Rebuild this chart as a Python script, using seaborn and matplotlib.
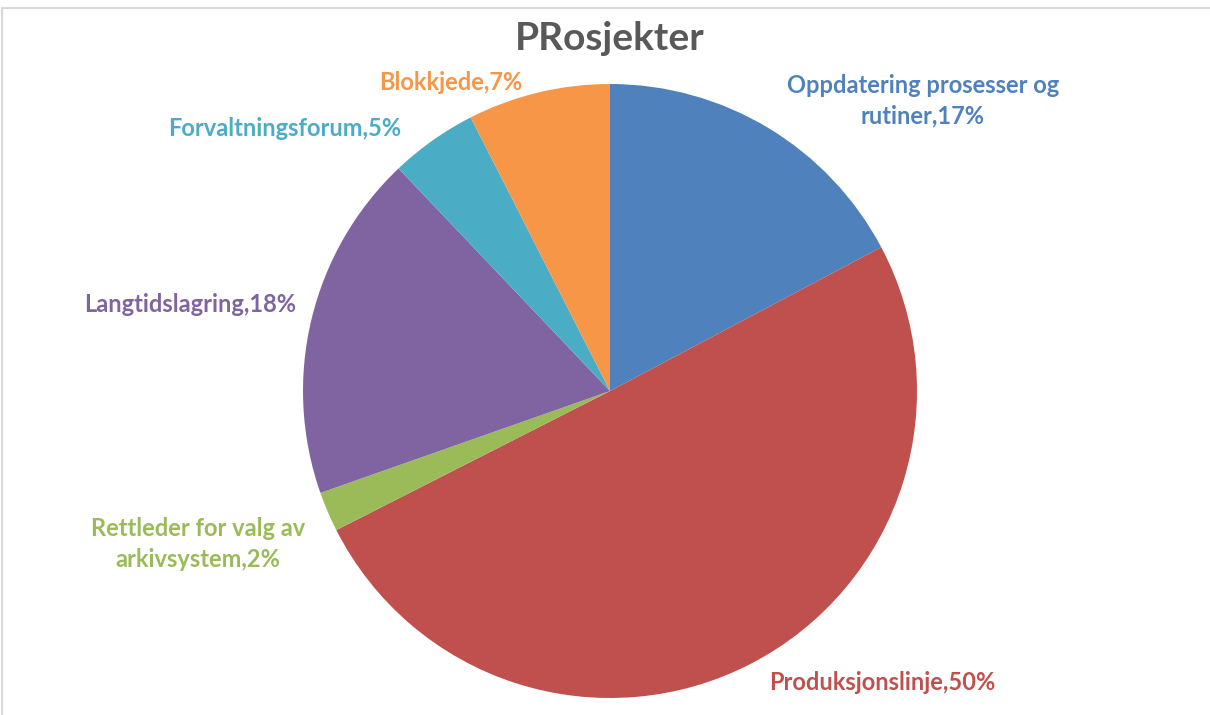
import matplotlib
matplotlib.use("Agg")
import matplotlib.pyplot as plt
import seaborn as sns
from matplotlib.lines import Line2D

sns.set_theme(style="white")
plt.rcParams['font.family'] = ['Lato', 'DejaVu Sans']

categories = ["Oppdatering prosesser og\nrutiner", "Produksjonslinje",
              "Rettleder for valg av\narkivsystem", "Langtidslagring",
              "Forvaltningsforum", "Blokkjede"]
values = [17.25, 50.3, 2.1, 18.3, 4.6, 7.5]
pct_labels = ["17%", "50%", "2%", "18%", "5%", "7%"]
colors = ["#4F81BD", "#C0504D", "#9BBB59", "#8064A2", "#4BACC6", "#F79646"]
title = "PRosjekter"

W, H = 1210, 715
fig = plt.figure(figsize=(W / 100, H / 100), dpi=100)
ax = fig.add_axes([0, 0, 1, 1])
ax.set_xlim(0, W)
ax.set_ylim(0, H)
ax.set_aspect("equal")
ax.axis("off")

ax.pie(values, colors=colors, startangle=90, counterclock=False,
       center=(610, H - 391), radius=307, frame=False,
       wedgeprops=dict(linewidth=0))
ax.set_xlim(0, W)
ax.set_ylim(0, H)

label_pos = [(923, 101), (882, 683), (198, 544), (190, 305), (285, 128), (451, 83)]
for cat, pct, col, (x, y) in zip(categories, pct_labels, colors, label_pos):
    ax.text(x, H - y, f"{cat},{pct}", color=col, fontsize=17, fontweight="bold",
            ha="center", va="center", linespacing=1.38)

ax.text(610, H - 38, title, color="#595959", fontsize=28, fontweight="bold",
        ha="center", va="center")

# light frame lines (top and left)
fig.add_artist(Line2D([0.002, 1], [1 - 8 / H, 1 - 8 / H], transform=fig.transFigure,
                      color="#D9D9D9", lw=1.5))
fig.add_artist(Line2D([0.002, 0.002], [0, 1 - 8 / H], transform=fig.transFigure,
                      color="#D9D9D9", lw=1.5))

fig.savefig("out.png", dpi=100)
